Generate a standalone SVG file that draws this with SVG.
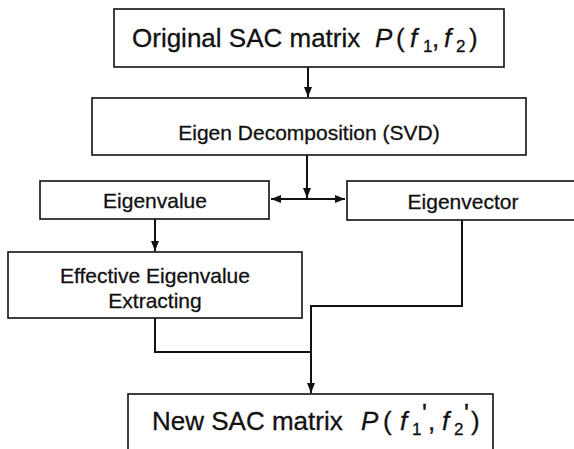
<svg xmlns="http://www.w3.org/2000/svg" width="574" height="449" viewBox="0 0 574 449">
<defs>
<marker id="ah" viewBox="0 0 10 10" refX="10" refY="5" markerWidth="5" markerHeight="5" orient="auto-start-reverse" markerUnits="strokeWidth">
<path d="M0,1 L10,5 L0,9 z" fill="#111"/>
</marker>
<style>
.box{fill:#fff;stroke:#111;stroke-width:1.6}
.t{font-family:"Liberation Sans",Arial,sans-serif;fill:#111;stroke:#111;stroke-width:0.3;text-anchor:middle}
.big{font-family:"Liberation Sans",Arial,sans-serif;fill:#111;stroke:#111;stroke-width:0.3;font-size:26px}
.it{font-style:italic}
.sub{font-size:17px}
.c{fill:none;stroke:#111;stroke-width:2}
</style>
</defs>
<rect width="574" height="449" fill="#fff"/>
<g id="connectors">
<line class="c" x1="308" y1="67" x2="308" y2="97" marker-end="url(#ah)"/>
<line class="c" x1="307" y1="155" x2="307" y2="198" marker-end="url(#ah)"/>
<line class="c" x1="271" y1="199" x2="345" y2="199" marker-start="url(#ah)" marker-end="url(#ah)"/>
<line class="c" x1="155" y1="219" x2="155" y2="251" marker-end="url(#ah)"/>
<polyline class="c" points="462,220 462,306 311,306 311,393" marker-end="url(#ah)"/>
<polyline class="c" points="155,318 155,352 311,352"/>
</g>
<g id="n-original">
<rect class="box" x="114" y="9" width="390" height="58"/>
<text class="big" y="47"><tspan x="132">Original SAC matrix</tspan><tspan class="it" x="375">P</tspan><tspan x="396">(</tspan><tspan class="it" x="410">f</tspan><tspan class="sub" x="423" dy="5">1</tspan><tspan dy="-5" x="432">,</tspan><tspan class="it" x="444">f</tspan><tspan class="sub" x="456" dy="5">2</tspan><tspan dy="-5" x="469">)</tspan></text>
</g>
<g id="n-eigen">
<rect class="box" x="92" y="98" width="434" height="57"/>
<text class="t" x="309" y="140" font-size="21">Eigen Decomposition (SVD)</text>
</g>
<g id="n-eigenvalue">
<rect class="box" x="40" y="181" width="229" height="38"/>
<text class="t" x="155" y="208" font-size="21">Eigenvalue</text>
</g>
<g id="n-eigenvector">
<rect class="box" x="347" y="181" width="234" height="39"/>
<text class="t" x="463" y="209" font-size="21">Eigenvector</text>
</g>
<g id="n-effective">
<rect class="box" x="8" y="252" width="294" height="66"/>
<text class="t" x="155" y="283" font-size="21">Effective Eigenvalue</text>
<text class="t" x="155" y="308" font-size="21">Extracting</text>
</g>
<g id="n-new">
<rect class="box" x="128" y="394" width="365" height="70"/>
<text class="big" y="430"><tspan x="152">New SAC matrix</tspan><tspan class="it" x="361">P</tspan><tspan x="383">(</tspan><tspan class="it" x="400">f</tspan><tspan class="sub" x="412" dy="5">1</tspan><tspan x="422" dy="-13">'</tspan><tspan x="428" dy="8">,</tspan><tspan class="it" x="442">f</tspan><tspan class="sub" x="454" dy="5">2</tspan><tspan x="464" dy="-13">'</tspan><tspan x="471" dy="8">)</tspan></text>
</g>
</svg>
